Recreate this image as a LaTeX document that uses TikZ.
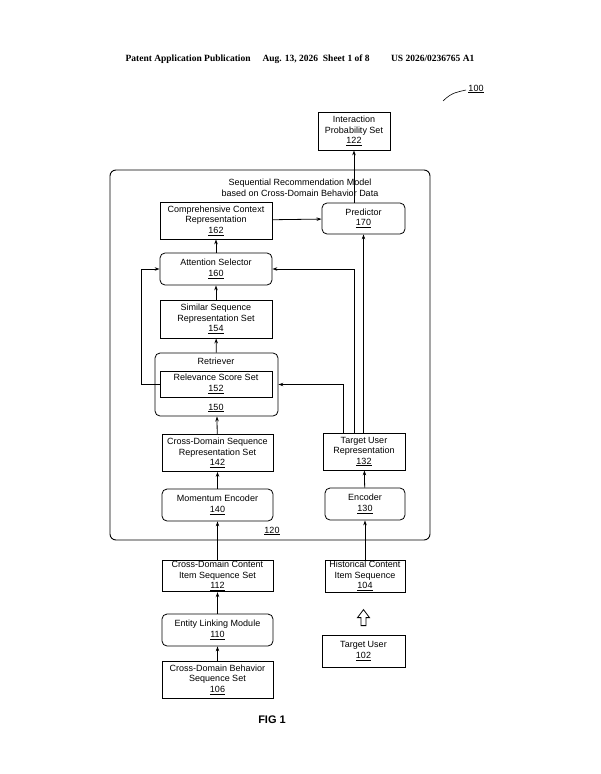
\documentclass[tikz,border=0pt]{standalone}
\usepackage{fontspec}
\setmainfont{Liberation Sans}
\newfontfamily\headfont{Liberation Serif}
\usetikzlibrary{arrows.meta}

\tikzset{
  box/.style={draw, line width=0.8pt, align=center, inner sep=1pt, font=\fontsize{9}{10.5}\selectfont},
  rbox/.style={box, rounded corners=5pt},
  conn/.style={line width=0.8pt, -{Stealth[length=5pt,width=3.5pt]}}
}

\begin{document}
\begin{tikzpicture}[x=1pt, y=-1pt]
\useasboundingbox (0,0) rectangle (600,774);
% header
\node[font=\headfont\bfseries\fontsize{9.5}{11}\selectfont] (head) at (300,59)
  {Patent Application Publication\quad\ Aug. 13, 2026\ \ Sheet 1 of 8\qquad\ US 2026/0236765 A1};
\node[font=\fontsize{9}{10}\selectfont] (n100) at (476,89) {\underline{100}};
\draw[line width=0.6pt] (443,101) .. controls (452,92) and (458,92) .. (466,90);
% container
\draw[line width=0.9pt, rounded corners=6pt] (110,170) rectangle (430,540);
\node[align=center, font=\fontsize{9}{10.5}\selectfont] (title) at (300,188)
  {Sequential Recommendation Model\\based on Cross-Domain Behavior Data};
\node[font=\fontsize{9}{10}\selectfont] (n120) at (272,531) {\underline{120}};
% output
\node[box, minimum width=72pt, minimum height=38pt] (ips) at (354,131)
  {Interaction\\Probability Set\\\underline{122}};
% left column
\node[box, minimum width=112pt, minimum height=37pt] (ccr) at (216,220.5)
  {Comprehensive Context\\Representation\\\underline{162}};
\node[rbox, minimum width=83pt, minimum height=31pt] (pred) at (363.5,218.5)
  {Predictor\\\underline{170}};
\node[rbox, minimum width=112pt, minimum height=32pt] (att) at (216,269)
  {Attention Selector\\\underline{160}};
\node[box, minimum width=112pt, minimum height=38pt] (sim) at (216,319)
  {Similar Sequence\\Representation Set\\\underline{154}};
\node[rbox, minimum width=123pt, minimum height=63pt] (ret) at (216.5,384.5) {};
\node[font=\fontsize{9}{10}\selectfont] (retl) at (216,361) {Retriever};
\node[font=\fontsize{9}{10}\selectfont] (n150) at (216,408) {\underline{150}};
\node[box, minimum width=112pt, minimum height=26pt] (rel) at (216,384)
  {Relevance Score Set\\\underline{152}};
\node[box, minimum width=111pt, minimum height=37pt] (cds) at (217.5,453)
  {Cross-Domain Sequence\\Representation Set\\\underline{142}};
\node[rbox, minimum width=111pt, minimum height=32pt] (mom) at (217.5,505)
  {Momentum Encoder\\\underline{140}};
\node[box, minimum width=111pt, minimum height=31pt] (cdc) at (217.5,576)
  {Cross-Domain Content\\Item Sequence Set\\\underline{112}};
\node[rbox, minimum width=111pt, minimum height=32pt] (elm) at (217.5,630)
  {Entity Linking Module\\\underline{110}};
\node[box, minimum width=111pt, minimum height=37pt] (cdb) at (217.5,679.5)
  {Cross-Domain Behavior\\Sequence Set\\\underline{106}};
% right column
\node[box, minimum width=82pt, minimum height=37pt] (tur) at (364,451.5)
  {Target User\\Representation\\\underline{132}};
\node[rbox, minimum width=80pt, minimum height=32pt] (enc) at (365,504)
  {Encoder\\\underline{130}};
\node[box, minimum width=80pt, minimum height=32pt] (hci) at (365,576)
  {Historical Content\\Item Sequence\\\underline{104}};
\node[box, minimum width=83pt, minimum height=32pt] (tu) at (363.5,651)
  {Target User\\\underline{102}};
\node[font=\bfseries\fontsize{11}{12}\selectfont] (fig) at (272,720) {FIG 1};
% connectors
\draw[conn] (cdb) -- (elm);
\draw[conn] (elm) -- (cdc);
\draw[conn] (cdc) -- (mom);
\draw[conn] (mom) -- (cds);
\draw[conn] (cds) -- (ret);
\draw[conn] (ret) -- (sim);
\draw[conn] (sim) -- (att);
\draw[conn] (att) -- (ccr);
\draw[conn] (ccr) -- (pred);
\draw[conn] (pred.north -| ips) -- (ips);
\draw[conn] (hci) -- (enc);
\draw[conn] (enc) -- (tur);
\draw[conn] (tur.north -| pred) -- (pred);
\coordinate (lft) at (141,0);
\draw[conn] (rel.west) -| (lft |- att) -- (att.west);
\coordinate (r1) at (354,0);
\draw[conn] (tur.north -| r1) |- (att.east);
\coordinate (r2) at (343,0);
\draw[conn] (tur.north -| r2) |- (ret.east);
% hollow arrow
\draw[line width=0.8pt] (tu.north) ++(-2.5,-9) -- ++(0,-8) -- ++(-3.5,0) -- ++(6,-8)
  -- ++(6,8) -- ++(-3.5,0) -- ++(0,8) -- cycle;
\end{tikzpicture}
\end{document}
